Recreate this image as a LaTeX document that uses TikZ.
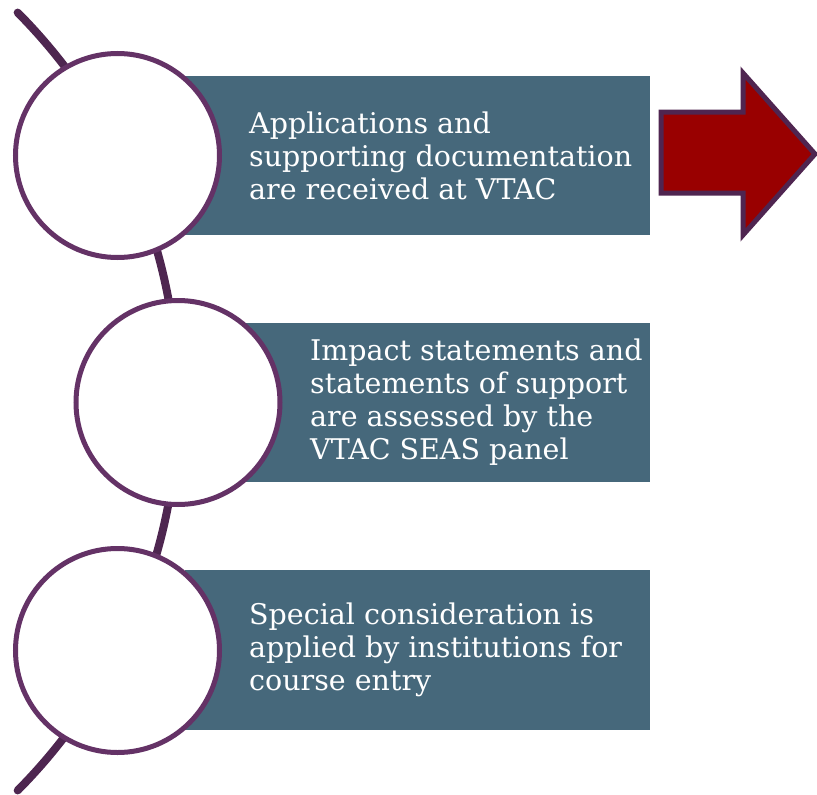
\documentclass[tikz,border=0pt]{standalone}
\usepackage{fontspec}
\setmainfont{DejaVu Serif}
\definecolor{boxblue}{RGB}{70,104,123}
\definecolor{ringpurple}{RGB}{100,50,102}
\definecolor{spinepurple}{RGB}{78,38,80}
\definecolor{arrowred}{RGB}{153,0,0}
\definecolor{arrowedge}{RGB}{79,37,80}
\begin{document}
\begin{tikzpicture}[x=1pt,y=-1pt,
  ring/.style={circle,draw=ringpurple,line width=5pt,fill=white,minimum size=204pt,inner sep=0pt},
  steptext/.style={text=white,align=left,anchor=west,inner sep=0pt,font=\fontsize{28.5}{33}\selectfont},
]
\useasboundingbox (0,0) rectangle (817,795);
% spine arc
\draw[spinepurple,line width=8pt,line cap=round] (-374,401.5) ++(44.8:552) arc[start angle=44.8,end angle=-44.8,radius=552];
% boxes
\fill[boxblue] (185,76) rectangle (650,235);
\fill[boxblue] (245,323) rectangle (650,482);
\fill[boxblue] (185,570) rectangle (650,730);
% rings
\node[ring] (c1) at (117.5,155.5) {};
\node[ring] (c2) at (178,402.5) {};
\node[ring] (c3) at (117.5,650.5) {};
% texts
\node[steptext] (t1) at (249,155.5) {Applications and\\supporting documentation\\are received at VTAC};
\node[steptext] (t2) at (310,402.5) {Impact statements and\\statements of support\\are assessed by the\\VTAC SEAS panel};
\node[steptext] (t3) at (249,650) {Special consideration is\\applied by institutions for\\course entry};
% arrow
\draw[arrowedge,fill=arrowred,line width=5pt,line join=miter]
  (661,112) -- (743,112) -- (743,73) -- (815,154) -- (743,235) -- (743,193) -- (661,193) -- cycle;
\end{tikzpicture}
\end{document}
